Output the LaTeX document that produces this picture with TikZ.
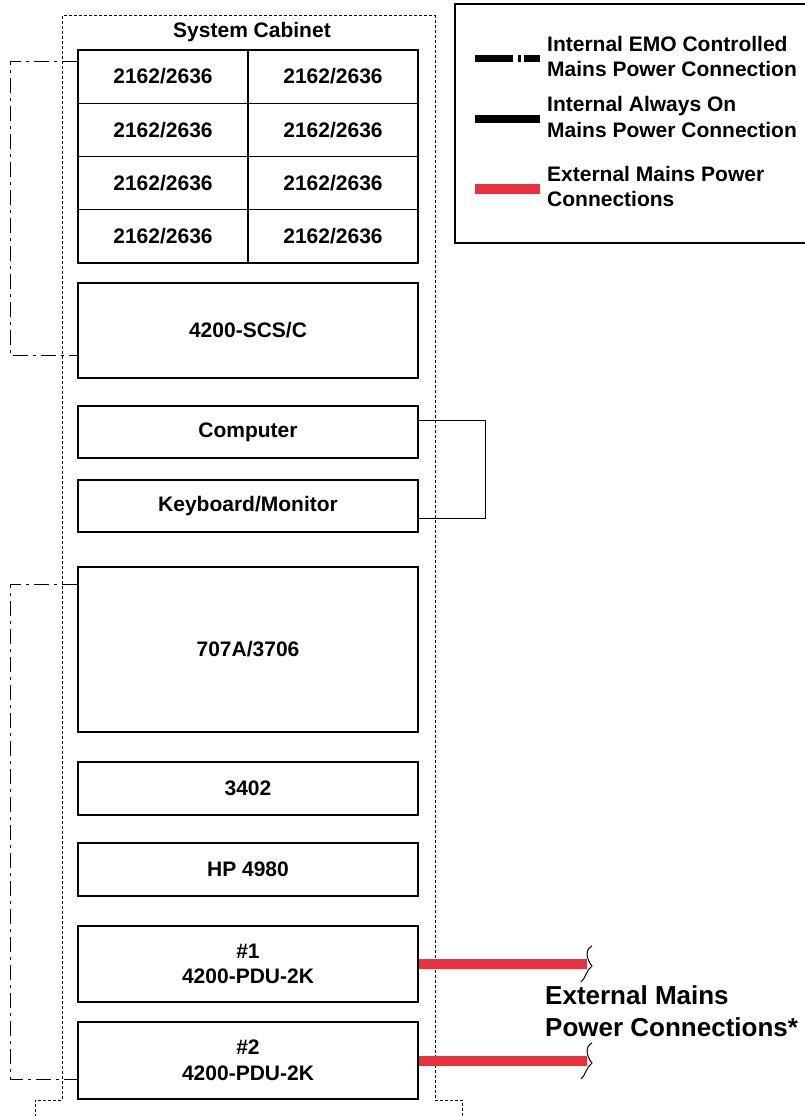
\documentclass[tikz,border=0pt]{standalone}
\usepackage{fontspec}
\setmainfont{Liberation Sans}
\usetikzlibrary{calc}
\definecolor{extred}{RGB}{234,50,62}
\begin{document}
\begin{tikzpicture}[x=1pt,y=-1pt,
  lbl/.style={font=\bfseries\fontsize{21}{25.5}\selectfont},
  unit/.style={draw,line width=1.4pt,rectangle,minimum width=340pt,inner sep=0pt,align=center,lbl},
  cell/.style={draw,line width=1.4pt,rectangle,minimum width=170pt,minimum height=53.25pt,inner sep=0pt,lbl},
  emo/.style={line width=1.4pt,dash pattern=on 15pt off 5pt on 3pt off 5pt},
  alwayson/.style={line width=1.4pt},
  extline/.style={line width=10.5pt,extred},
  cabinet/.style={line width=1pt,dash pattern=on 3pt off 2pt},
  legtext/.style={anchor=west,align=left,inner sep=0pt,lbl}]
\useasboundingbox (0,0) rectangle (805,1116);
\fill[white] (0,0) rectangle (805,1116);
% cabinet outline
\draw[cabinet] (35,1122) -- (35,1100) -- (62,1100) -- (62,16) -- (435,16) -- (435,1100) -- (462,1100) -- (462,1122);
\node[lbl] (cabtitle) at (252,32) {System Cabinet};
% grid of 2162/2636
\node[cell] (c11) at (163,76.6) {2162/2636};
\node[cell] (c12) at (333,76.6) {2162/2636};
\node[cell] (c21) at (163,129.9) {2162/2636};
\node[cell] (c22) at (333,129.9) {2162/2636};
\node[cell] (c31) at (163,183.1) {2162/2636};
\node[cell] (c32) at (333,183.1) {2162/2636};
\node[cell] (c41) at (163,236.4) {2162/2636};
\node[cell] (c42) at (333,236.4) {2162/2636};
% units
\node[unit,minimum height=95pt] (scs) at (248,330.5) {4200-SCS/C};
\node[unit,minimum height=52pt] (comp) at (248,432) {Computer};
\node[unit,minimum height=52pt] (kbd) at (248,506) {Keyboard/Monitor};
\node[unit,minimum height=165pt] (k707) at (248,649.5) {707A/3706};
\node[unit,minimum height=53pt] (k3402) at (248,788.5) {3402};
\node[unit,minimum height=53pt] (hp) at (248,869.5) {HP 4980};
\node[unit,minimum height=76pt] (pdu1) at (248,964) {\#1\\4200-PDU-2K};
\node[unit,minimum height=77pt] (pdu2) at (248,1060.5) {\#2\\4200-PDU-2K};
% EMO connections
\draw[emo] ($(c11.north west)+(0,12)$) -- ++(-67,0) |- ($(scs.south west)+(0,-23)$);
\draw[emo] ($(k707.north west)+(0,18)$) -- ++(-67,0) |- ($(pdu2.south west)+(0,-20)$);
% always on
\draw[alwayson] ($(comp.north east)+(0,15)$) -- ++(67,0) |- ($(kbd.south east)+(0,-14)$);
% external
\coordinate (e1) at (587,964);
\coordinate (e2) at (587,1061);
\draw[extline] (pdu1.east) -- (e1);
\draw[extline] (pdu2.east |- e2) -- (e2);
\draw[line width=1pt] (592,946) .. controls (585,949) and (586,959) .. (592,966) .. controls (586,970) and (586,978) .. (581,982);
\draw[line width=1pt] (592,1043) .. controls (585,1046) and (586,1056) .. (592,1063) .. controls (586,1067) and (586,1075) .. (581,1079);
\node[anchor=west,align=left,inner sep=0pt,font=\bfseries\fontsize{26}{32}\selectfont] (extlbl) at (545,1011) {External Mains\\Power Connections*};
% legend
\draw[line width=1.4pt] (455,4) rectangle (812,243);
\draw[line width=7pt,dash pattern=on 38pt off 5pt on 3pt off 3pt on 16pt off 10pt] (475,58.5) -- (540,58.5);
\draw[line width=8pt] (475,119) -- (540,119);
\draw[line width=10pt,extred] (475,188.5) -- (540,188.5);
\node[legtext] (l1) at (547,56.5) {Internal EMO Controlled\\Mains Power Connection};
\node[legtext] (l2) at (547,117) {Internal Always On\\Mains Power Connection};
\node[legtext] (l3) at (547,186.5) {External Mains Power\\Connections};
\end{tikzpicture}
\end{document}
